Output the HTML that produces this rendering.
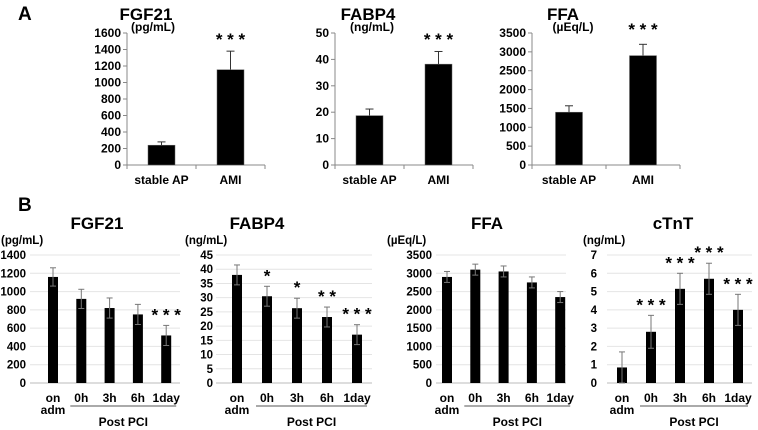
<!DOCTYPE html>
<html><head><meta charset="utf-8"><style>
body{margin:0;background:#fff;}
svg{display:block;font-family:"Liberation Sans",Arial,sans-serif;font-weight:bold;}
</style></head><body>
<svg id="c" width="758" height="430" viewBox="0 0 758 430"></svg>
<script>
// ---- Data ----
const aCategories = ["stable AP","AMI"];
const aFgf21 = [240, 1155], aFgf21Err = [40, 225];
const aFabp4 = [18.7, 38.2], aFabp4Err = [2.5, 4.8];
const aFfa = [1400, 2900], aFfaErr = [170, 300];
const aStars = ["","***"];
const aFgf21Ticks = [0,200,400,600,800,1000,1200,1400,1600];
const aFabp4Ticks = [0,10,20,30,40,50];
const aFfaTicks = [0,500,1000,1500,2000,2500,3000,3500];

const bCategories = ["0h","3h","6h","1day"];
const bFirst = ["on","adm"];
const bFgf21 = [1160, 920, 820, 750, 520], bFgf21Err = [100, 105, 110, 110, 110];
const bFgf21Stars = ["","","","","***"];
const bFabp4 = [38, 30.5, 26.3, 23.2, 17], bFabp4Err = [3.5, 3.5, 3.5, 3.5, 3.5];
const bFabp4Stars = ["","*","*","**","***"];
const bFfa = [2900, 3100, 3050, 2750, 2350], bFfaErr = [150, 150, 150, 150, 150];
const bFfaStars = ["","","","",""];
const bCtnt = [0.85, 2.8, 5.15, 5.7, 4.0], bCtntErr = [0.85, 0.9, 0.85, 0.85, 0.85];
const bCtntStars = ["","***","***","***","***"];
const bFgf21Ticks = [0,200,400,600,800,1000,1200,1400];
const bFabp4Ticks = [0,5,10,15,20,25,30,35,40,45];
const bFfaTicks = [0,500,1000,1500,2000,2500,3000,3500];
const bCtntTicks = [0,1,2,3,4,5,6,7];

const svg = document.getElementById('c');
const NS = "http://www.w3.org/2000/svg";
function mk(tag, attrs, parent, text){
  const e = document.createElementNS(NS, tag);
  for (const k in attrs) e.setAttribute(k, attrs[k]);
  if (text !== undefined) e.textContent = text;
  (parent||svg).appendChild(e);
  return e;
}
function starText(s){ return s.split('').join(' '); }

mk('text',{x:18,y:20,'font-size':19},svg,'A');
mk('text',{x:18,y:211,'font-size':19},svg,'B');

function panelA(name, title, unit, vals, errs, ticks, ax, x1, tx, ux, sx){
  const g = mk('g',{});
  
  
  const y0 = 165, y1 = 33, max = ticks[ticks.length-1];
  const y = v => y0 - (v/max)*(y0-y1);
  const n = aCategories.length, bw = (x1-ax)/n;
  const xc = i => ax + bw*(i+0.5);
  const t = mk('text',{x:tx,y:20,'font-size':17,'text-anchor':'middle'},g,title);
  
  const u = mk('text',{x:ux,y:31,'font-size':12,'text-anchor':'middle'},g,unit);
  
  mk('line',{x1:ax,y1:y1,x2:ax,y2:y0,stroke:'#888'},g);
  mk('line',{x1:ax,y1:y0,x2:x1,y2:y0,stroke:'#888'},g);
  ticks.forEach(v=>{
    mk('line',{x1:ax-4,y1:y(v),x2:ax,y2:y(v),stroke:'#888'},g);
    const l = mk('text',{x:ax-6,y:y(v)+4,'font-size':12,'text-anchor':'end'},g,v);
    
  });
  for(let i=0;i<=n;i++) mk('line',{x1:ax+bw*i,y1:y0,x2:ax+bw*i,y2:y0+4,stroke:'#888'},g);
  vals.forEach((v,i)=>{
    const c = xc(i);
    mk('line',{x1:c,y1:y(v),x2:c,y2:y(v+errs[i]),stroke:'#333'},g);
    mk('line',{x1:c-4,y1:y(v+errs[i]),x2:c+4,y2:y(v+errs[i]),stroke:'#333'},g);
    const b = mk('rect',{x:c-13.5,y:y(v),width:27,height:y0-y(v),fill:'#000',stroke:'#666','stroke-width':0.5},g);
    
    const l = mk('text',{x:c,y:184,'font-size':12,'text-anchor':'middle'},g,aCategories[i]);
    
    if(aStars[i]){ const s = mk('text',{x:c,y:sx,'font-size':17,'text-anchor':'middle'},g,starText(aStars[i]));  }
  });
}
panelA('fgf21-chart-a','FGF21','(pg/mL)',aFgf21,aFgf21Err,aFgf21Ticks,127,265,146,153,45);
panelA('fabp4-chart-a','FABP4','(ng/mL)',aFabp4,aFabp4Err,aFabp4Ticks,335,473,368,372,45);
panelA('ffa-chart-a','FFA','(\u00b5Eq/L)',aFfa,aFfaErr,aFfaTicks,532,680,563,573,35);

function panelB(name, title, unit, vals, errs, stars, ticks, gx0, gx1, tx, ux, labx, bx0, step){
  const g = mk('g',{});
  
  
  const y0 = 383, y1 = 255, max = ticks[ticks.length-1];
  const y = v => y0 - (v/max)*(y0-y1);
  const xc = i => bx0 + step*i;
  const t = mk('text',{x:tx,y:229,'font-size':17,'text-anchor':'middle'},g,title);
  
  const u = mk('text',{x:ux,y:244,'font-size':11.5},g,unit);
  
  ticks.forEach(v=>{
    mk('line',{x1:gx0,y1:y(v),x2:gx1,y2:y(v),stroke:v===0?'#bbb':'#e4e4e4'},g);
    const l = mk('text',{x:labx,y:y(v)+4,'font-size':11.5,'text-anchor':'end'},g,v);
    
  });
  vals.forEach((v,i)=>{
    const c = xc(i);
    const b = mk('rect',{x:c-5,y:y(v),width:10,height:y0-y(v),fill:'#000'},g);
    
    const hi = y(v+errs[i]), lo = y(v-errs[i]);
    mk('line',{x1:c,y1:hi,x2:c,y2:lo,stroke:'#777'},g);
    mk('line',{x1:c-3,y1:hi,x2:c+3,y2:hi,stroke:'#777'},g);
    mk('line',{x1:c-3,y1:lo,x2:c+3,y2:lo,stroke:'#777'},g);
    if(stars[i]){ const s = mk('text',{x:c,y:hi-5,'font-size':17,'text-anchor':'middle'},g,starText(stars[i]));  }
    if(i===0){
      mk('text',{x:c,y:402,'font-size':12,'text-anchor':'middle'},g,bFirst[0]);
      mk('text',{x:c,y:414,'font-size':12,'text-anchor':'middle'},g,bFirst[1]);
    } else {
      mk('text',{x:c,y:402,'font-size':12,'text-anchor':'middle'},g,bCategories[i-1]);
    }
  });
  const lx0 = xc(1)-11, lx1 = xc(vals.length-1)+10;
  mk('line',{x1:lx0,y1:406,x2:lx1,y2:406,stroke:'#555'},g);
  mk('text',{x:(lx0+lx1)/2,y:426,'font-size':12,'text-anchor':'middle'},g,'Post PCI');
}
panelB('fgf21-chart-b','FGF21','(pg/mL)',bFgf21,bFgf21Err,bFgf21Stars,bFgf21Ticks,30,180,97,1,26,53,28.3);
panelB('fabp4-chart-b','FABP4','(ng/mL)',bFabp4,bFabp4Err,bFabp4Stars,bFabp4Ticks,216,372,257,185,213,237,30);
panelB('ffa-chart-b','FFA','(\u00b5Eq/L)',bFfa,bFfaErr,bFfaStars,bFfaTicks,436,566,487,387,432,447,28.3);
panelB('ctnt-chart-b','cTnT','(ng/mL)',bCtnt,bCtntErr,bCtntStars,bCtntTicks,607,752,673,583,597,622,29);
</script>
</body></html>
